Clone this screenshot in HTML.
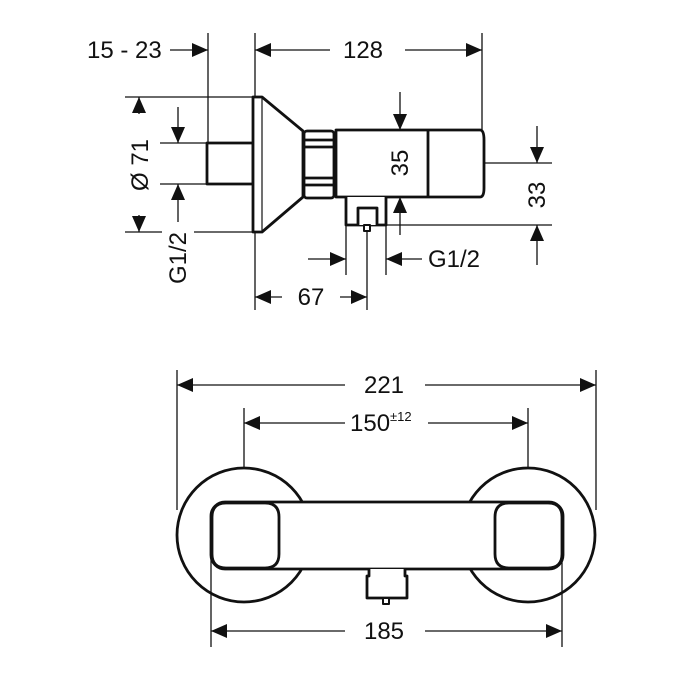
<!DOCTYPE html>
<html><head><style>
html,body{margin:0;padding:0;background:#fff;}
svg{display:block;}
text{font-family:"Liberation Sans",sans-serif;font-size:24px;fill:#111;}
</style></head><body>
<svg width="700" height="700" viewBox="0 0 700 700" xmlns="http://www.w3.org/2000/svg">
<defs>
<marker id="a" viewBox="0 0 10 10" refX="10" refY="5" markerWidth="16" markerHeight="14" markerUnits="userSpaceOnUse" orient="auto" preserveAspectRatio="none"><path d="M0,0 L10,5 L0,10 Z" fill="#111"/></marker>
</defs>
<g stroke="#111" stroke-width="1.3" fill="none">
<line x1="208" y1="33" x2="208" y2="143"/>
<line x1="255" y1="33" x2="255" y2="310"/>
<line x1="482" y1="33" x2="482" y2="130"/>
<line x1="125" y1="97" x2="253" y2="97"/>
<line x1="125" y1="232" x2="162" y2="232"/>
<line x1="194" y1="232" x2="253" y2="232"/>
<line x1="160" y1="143" x2="207" y2="143"/>
<line x1="160" y1="184" x2="207" y2="184"/>
<line x1="415" y1="163" x2="552" y2="163"/>
<line x1="386" y1="225" x2="552" y2="225"/>
<line x1="346" y1="225" x2="346" y2="275"/>
<line x1="386" y1="225" x2="386" y2="275"/>
<line x1="367" y1="232" x2="367" y2="310"/>
<line x1="170" y1="50" x2="208" y2="50" marker-end="url(#a)"/>
<line x1="330" y1="50" x2="255" y2="50" marker-end="url(#a)"/>
<line x1="405" y1="50" x2="482" y2="50" marker-end="url(#a)"/>
<line x1="139" y1="114" x2="139" y2="97" marker-end="url(#a)"/>
<line x1="139" y1="215" x2="139" y2="232" marker-end="url(#a)"/>
<line x1="178" y1="107" x2="178" y2="143" marker-end="url(#a)"/>
<line x1="178" y1="222" x2="178" y2="184" marker-end="url(#a)"/>
<line x1="400" y1="92" x2="400" y2="130" marker-end="url(#a)"/>
<line x1="400" y1="235" x2="400" y2="197" marker-end="url(#a)"/>
<line x1="537" y1="126" x2="537" y2="163" marker-end="url(#a)"/>
<line x1="537" y1="265" x2="537" y2="225" marker-end="url(#a)"/>
<line x1="308" y1="259" x2="346" y2="259" marker-end="url(#a)"/>
<line x1="422" y1="259" x2="386" y2="259" marker-end="url(#a)"/>
<line x1="282" y1="297" x2="255" y2="297" marker-end="url(#a)"/>
<line x1="340" y1="297" x2="367" y2="297" marker-end="url(#a)"/>
<line x1="244" y1="408" x2="244" y2="468"/>
<line x1="528" y1="408" x2="528" y2="468"/>
<line x1="345" y1="385" x2="177" y2="385" marker-end="url(#a)"/>
<line x1="425" y1="385" x2="596" y2="385" marker-end="url(#a)"/>
<line x1="345" y1="423" x2="244" y2="423" marker-end="url(#a)"/>
<line x1="428" y1="423" x2="528" y2="423" marker-end="url(#a)"/>
<line x1="345" y1="631" x2="211" y2="631" marker-end="url(#a)"/>
<line x1="425" y1="631" x2="562" y2="631" marker-end="url(#a)"/>
</g>
<g stroke="#111" stroke-width="2.8" fill="#fff" stroke-linejoin="round">
<rect x="207" y="143" width="46" height="41"/>
<path d="M253,97 L262,97 L303,131 L303,197 L262,232 L253,232 Z"/>
<line x1="262" y1="97" x2="262" y2="232" stroke-width="1.2"/>
<rect x="304" y="131" width="30" height="67" rx="3"/>
<line x1="304" y1="140" x2="334" y2="140"/>
<line x1="304" y1="147" x2="334" y2="147"/>
<line x1="304" y1="178" x2="334" y2="178"/>
<line x1="304" y1="185" x2="334" y2="185"/>
<path d="M336,130 L480,130 Q484,130 484,140 L484,188 Q484,197 480,197 L336,197 Z"/>
<line x1="428" y1="130" x2="428" y2="197"/>
<path d="M346,197 L346,225 L386,225 L386,197"/>
<path d="M358,225 L358,208 L377,208 L377,225"/>
<rect x="364" y="225" width="6" height="6" stroke-width="2"/>
<circle cx="244" cy="535" r="67"/>
<circle cx="528" cy="535" r="67"/>
<rect x="211" y="502" width="352" height="67" rx="14"/>
<path d="M226,503 L265,503 Q279,503 279,517 L279,554 Q279,568 265,568 L226,568 Q212,568 212,554 L212,517 Q212,503 226,503 Z"/>
<path d="M509,503 L548,503 Q562,503 562,517 L562,554 Q562,568 548,568 L509,568 Q495,568 495,554 L495,517 Q495,503 509,503 Z"/>
<path d="M369,569 L369,576 L367,576 L367,598 L407,598 L407,576 L405,576 L405,569"/>
<rect x="383" y="598" width="6" height="6" stroke-width="2"/>
</g>
<g stroke="#111" stroke-width="1.3">
<line x1="177" y1="370" x2="177" y2="510"/>
<line x1="596" y1="370" x2="596" y2="510"/>
<line x1="211" y1="555" x2="211" y2="647"/>
<line x1="562" y1="555" x2="562" y2="647"/>
</g>
<text x="87" y="58">15 - 23</text>
<text x="363" y="58" text-anchor="middle">128</text>
<text transform="translate(148,165) rotate(-90)" text-anchor="middle">Ø 71</text>
<text transform="translate(186,258) rotate(-90)" text-anchor="middle">G1/2</text>
<text transform="translate(408,163) rotate(-90)" text-anchor="middle">35</text>
<text transform="translate(545,195) rotate(-90)" text-anchor="middle">33</text>
<text x="428" y="267">G1/2</text>
<text x="311" y="305" text-anchor="middle">67</text>
<text x="384" y="393" text-anchor="middle">221</text>
<text x="350" y="431">150<tspan font-size="13" dy="-10">±12</tspan></text>
<text x="384" y="639" text-anchor="middle">185</text>
</svg>
</body></html>
